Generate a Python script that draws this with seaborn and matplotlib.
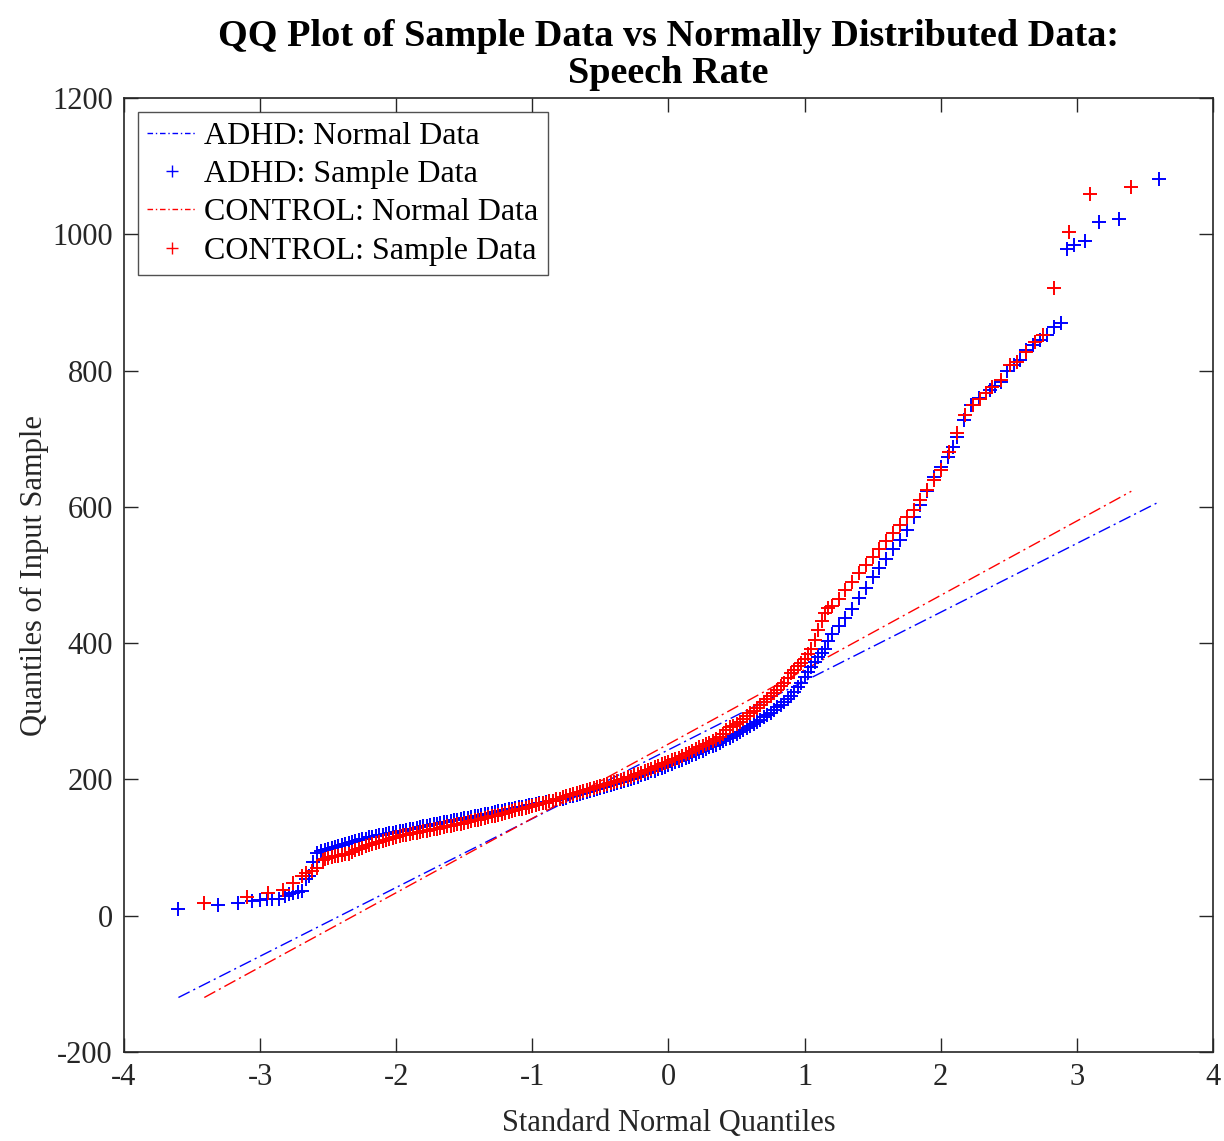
import numpy as np
import pandas as pd
import matplotlib
matplotlib.use("Agg")
import matplotlib.pyplot as plt
import seaborn as sns
from matplotlib.lines import Line2D

# ---------------- data ----------------
# ADHD sample quantiles: theoretical (x) vs sample (y)
adhd_x = [
    -3.60, -3.31, -3.16, -3.06, -3.00, -2.95, -2.91, -2.86, -2.82, -2.79,
    -2.76, -2.72, -2.69, -2.66, -2.64, -2.61, -2.58, -2.55, -2.525,
    -2.500, -2.475, -2.450, -2.425, -2.400, -2.375, -2.350, -2.325, -2.300, -2.275,
    -2.250, -2.225, -2.200, -2.175, -2.150, -2.125, -2.100, -2.075, -2.050, -2.025,
    -2.000, -1.975, -1.950, -1.925, -1.900, -1.875, -1.850, -1.825, -1.800, -1.775,
    -1.750, -1.725, -1.700, -1.675, -1.650, -1.625, -1.600, -1.575, -1.550, -1.525,
    -1.500, -1.475, -1.450, -1.425, -1.400, -1.375, -1.350, -1.325, -1.300, -1.275,
    -1.250, -1.225, -1.200, -1.175, -1.150, -1.125, -1.100, -1.075, -1.050, -1.025,
    -1.000, -0.975, -0.950, -0.925, -0.900, -0.875, -0.850, -0.825, -0.800, -0.775,
    -0.750, -0.725, -0.700, -0.675, -0.650, -0.625, -0.600, -0.575, -0.550, -0.525,
    -0.500, -0.475, -0.450, -0.425, -0.400, -0.375, -0.350, -0.325, -0.300, -0.275,
    -0.250, -0.225, -0.200, -0.175, -0.150, -0.125, -0.100, -0.075, -0.050, -0.025,
    0.000, 0.025, 0.050, 0.075, 0.100, 0.125, 0.150, 0.175, 0.200, 0.225,
    0.250, 0.275, 0.300, 0.325, 0.350, 0.375, 0.400, 0.425, 0.450, 0.475,
    0.500, 0.525, 0.550, 0.575, 0.600, 0.625, 0.650, 0.675, 0.700, 0.725,
    0.750, 0.775, 0.800, 0.825, 0.850, 0.875, 0.900, 0.925, 0.950, 0.975,
    1.000, 1.025, 1.050, 1.075, 1.100, 1.125, 1.150, 1.175, 1.200,
    1.25, 1.30, 1.35, 1.40, 1.45, 1.50, 1.55, 1.60, 1.65, 1.70,
    1.75, 1.80, 1.85, 1.90, 1.95, 2.00, 2.05, 2.09, 2.12, 2.17,
    2.22, 2.28, 2.36, 2.40, 2.44, 2.49, 2.54, 2.58, 2.63, 2.68,
    2.73, 2.78, 2.83, 2.88, 2.93, 2.98, 3.06, 3.16, 3.31, 3.60]
adhd_y = [
    10, 16, 19, 22, 23, 24, 24, 25, 29, 32,
    34, 35, 37, 54, 58, 79, 92, 95, 97,
    98, 100, 101, 103, 104, 106, 107, 108, 110, 111,
    112, 113, 115, 116, 117, 118, 119, 120, 121, 122,
    123, 124, 125, 126, 127, 128, 129, 130, 131, 132,
    133, 134, 135, 136, 137, 138, 139, 140, 141, 142,
    143, 144, 145, 146, 147, 148, 149, 150, 151, 152,
    153, 154, 155, 156, 157, 158, 159, 160, 161, 162,
    163, 164, 165, 166, 167, 168, 169, 170, 171, 172,
    173, 175, 176, 177, 178, 180, 181, 183, 184, 186,
    187, 189, 190, 192, 193, 195, 196, 198, 199, 201,
    202, 204, 206, 208, 210, 212, 213, 215, 217, 219,
    221, 223, 225, 227, 229, 231, 233, 236, 238, 240,
    242, 245, 247, 249, 251, 254, 256, 259, 261, 264,
    266, 269, 272, 275, 278, 281, 284, 288, 291, 295,
    298, 302, 306, 310, 314, 318, 323, 329, 335, 342,
    350, 358, 365, 373, 380, 386, 392, 403, 413,
    425, 437, 450, 466, 481, 497, 510, 524, 538, 552,
    566, 585, 603, 623, 644, 658, 673, 688, 702, 728,
    749, 760, 771, 777, 783, 800, 808, 815, 830, 837,
    845, 852, 864, 870, 979, 984, 990, 1018, 1022, 1081]

# CONTROL sample quantiles
control_x = [
    -3.41, -3.10, -2.94, -2.83, -2.76, -2.69, -2.66, -2.62, -2.58, -2.54, -2.52,
    -2.500, -2.475, -2.450, -2.425, -2.400, -2.375, -2.350, -2.325, -2.300, -2.275,
    -2.250, -2.225, -2.200, -2.175, -2.150, -2.125, -2.100, -2.075, -2.050, -2.025,
    -2.000, -1.975, -1.950, -1.925, -1.900, -1.875, -1.850, -1.825, -1.800, -1.775,
    -1.750, -1.725, -1.700, -1.675, -1.650, -1.625, -1.600, -1.575, -1.550, -1.525,
    -1.500, -1.475, -1.450, -1.425, -1.400, -1.375, -1.350, -1.325, -1.300, -1.275,
    -1.250, -1.225, -1.200, -1.175, -1.150, -1.125, -1.100, -1.075, -1.050, -1.025,
    -1.000, -0.975, -0.950, -0.925, -0.900, -0.875, -0.850, -0.825, -0.800, -0.775,
    -0.750, -0.725, -0.700, -0.675, -0.650, -0.625, -0.600, -0.575, -0.550, -0.525,
    -0.500, -0.475, -0.450, -0.425, -0.400, -0.375, -0.350, -0.325, -0.300, -0.275,
    -0.250, -0.225, -0.200, -0.175, -0.150, -0.125, -0.100, -0.075, -0.050, -0.025,
    0.000, 0.025, 0.050, 0.075, 0.100, 0.125, 0.150, 0.175, 0.200, 0.225,
    0.250, 0.275, 0.300, 0.325, 0.350, 0.375, 0.400, 0.425, 0.450, 0.475,
    0.500, 0.525, 0.550, 0.575, 0.600, 0.625, 0.650, 0.675, 0.700, 0.725,
    0.750, 0.775, 0.800, 0.825, 0.850, 0.875, 0.900, 0.925, 0.950, 0.975,
    1.000, 1.025, 1.050, 1.075, 1.100, 1.125, 1.150, 1.175, 1.200,
    1.25, 1.30, 1.35, 1.40, 1.45, 1.50, 1.55, 1.60, 1.65, 1.70,
    1.75, 1.80, 1.85, 1.90, 1.95, 2.00, 2.06, 2.12, 2.18, 2.24,
    2.29, 2.33, 2.38, 2.44, 2.51, 2.56, 2.63, 2.69, 2.75, 2.83,
    2.94, 3.10, 3.40]
control_y = [
    18, 28, 34, 38, 48, 59, 63, 65, 70, 82, 84,
    85, 86, 87, 88, 89, 90, 91, 93, 96, 98,
    100, 102, 104, 105, 107, 108, 110, 111, 113, 114,
    116, 117, 118, 119, 120, 121, 122, 123, 124, 125,
    126, 127, 128, 129, 130, 131, 132, 133, 134, 135,
    136, 138, 139, 140, 141, 142, 143, 145, 146, 147,
    148, 150, 151, 152, 153, 155, 156, 157, 158, 160,
    161, 163, 164, 165, 166, 168, 169, 171, 172, 174,
    175, 177, 178, 180, 181, 183, 184, 186, 187, 189,
    190, 192, 193, 195, 196, 198, 199, 201, 203, 204,
    206, 208, 210, 212, 214, 216, 218, 220, 222, 224,
    226, 228, 230, 232, 234, 237, 239, 242, 244, 247,
    249, 252, 254, 257, 260, 263, 266, 272, 277, 279,
    282, 285, 289, 293, 297, 301, 305, 310, 314, 318,
    323, 327, 332, 337, 342, 349, 356, 361, 366, 371,
    377, 384, 392, 405, 420, 432, 445, 451, 455,
    465, 478, 490, 503, 515, 526, 538, 550, 562, 574,
    585, 595, 610, 625, 640, 654, 680, 708, 735, 749,
    758, 767, 776, 786, 808, 812, 827, 842, 852, 921,
    1003, 1060, 1069]

# fitted normal reference lines (end points)
adhd_line_x = [-3.60, 3.60]
adhd_line_y = [-120, 607]
control_line_x = [-3.41, 3.40]
control_line_y = [-120, 623]

legend_labels = ["ADHD: Normal Data", "ADHD: Sample Data",
                 "CONTROL: Normal Data", "CONTROL: Sample Data"]
x_ticks = [-4, -3, -2, -1, 0, 1, 2, 3, 4]
y_ticks = [-200, 0, 200, 400, 600, 800, 1000, 1200]

# ---------------- style ----------------
sns.set_style("ticks")
plt.rcParams["font.family"] = ["Liberation Serif", "DejaVu Serif"]
plt.rcParams["axes.unicode_minus"] = False
AX_COLOR = "#262626"

fig = plt.figure(figsize=(12.24, 11.41), dpi=100)
ax = fig.add_axes([0.1013, 0.078, 0.8897, 0.836])

dash_dot = (0, (9, 3, 1.5, 3))

sns.lineplot(x=adhd_line_x, y=adhd_line_y, ax=ax, color="blue",
             linewidth=1.0, linestyle=dash_dot)
sns.lineplot(x=control_line_x, y=control_line_y, ax=ax, color="red",
             linewidth=1.0, linestyle=dash_dot)

sns.scatterplot(x=adhd_x, y=adhd_y, ax=ax, marker="+", color="blue",
                s=100, linewidth=1.4, zorder=3)
sns.scatterplot(x=control_x, y=control_y, ax=ax, marker="+", color="red",
                s=100, linewidth=1.4, zorder=4)

ax.set_xlim(-4, 4)
ax.set_ylim(-200, 1200)
ax.set_xticks(x_ticks)
ax.set_yticks(y_ticks)
ax.tick_params(direction="in", length=10, width=1.0, colors=AX_COLOR,
               labelsize=22, top=True, right=True, pad=8)
for sp in ax.spines.values():
    sp.set_visible(True)
    sp.set_color(AX_COLOR)
    sp.set_linewidth(1.2)

ax.set_xlabel("Standard Normal Quantiles", fontsize=22, color=AX_COLOR, labelpad=12)
ax.set_ylabel("Quantiles of Input Sample", fontsize=22, color=AX_COLOR, labelpad=2)
ax.set_title("QQ Plot of Sample Data vs Normally Distributed Data:\nSpeech Rate",
             fontsize=27.5, fontweight="bold", color="black", pad=11, linespacing=1.05)

handles = [
    Line2D([0], [0], color="blue", linewidth=1.0, linestyle=(0, (4, 2, 1, 2))),
    Line2D([0], [0], color="blue", marker="+", linestyle="none", markersize=8, markeredgewidth=1.0),
    Line2D([0], [0], color="red", linewidth=1.0, linestyle=(0, (4, 2, 1, 2))),
    Line2D([0], [0], color="red", marker="+", linestyle="none", markersize=8, markeredgewidth=1.0),
]
leg = ax.legend(handles, legend_labels, loc="upper left", fontsize=23,
                frameon=True, fancybox=False, edgecolor=AX_COLOR,
                borderaxespad=0.43, handlelength=1.55, handletextpad=0.22,
                labelspacing=0.28, borderpad=0.3)
leg.get_frame().set_linewidth(1.0)
for t in leg.get_texts():
    t.set_color("black")

fig.savefig("out.png", dpi=100)
